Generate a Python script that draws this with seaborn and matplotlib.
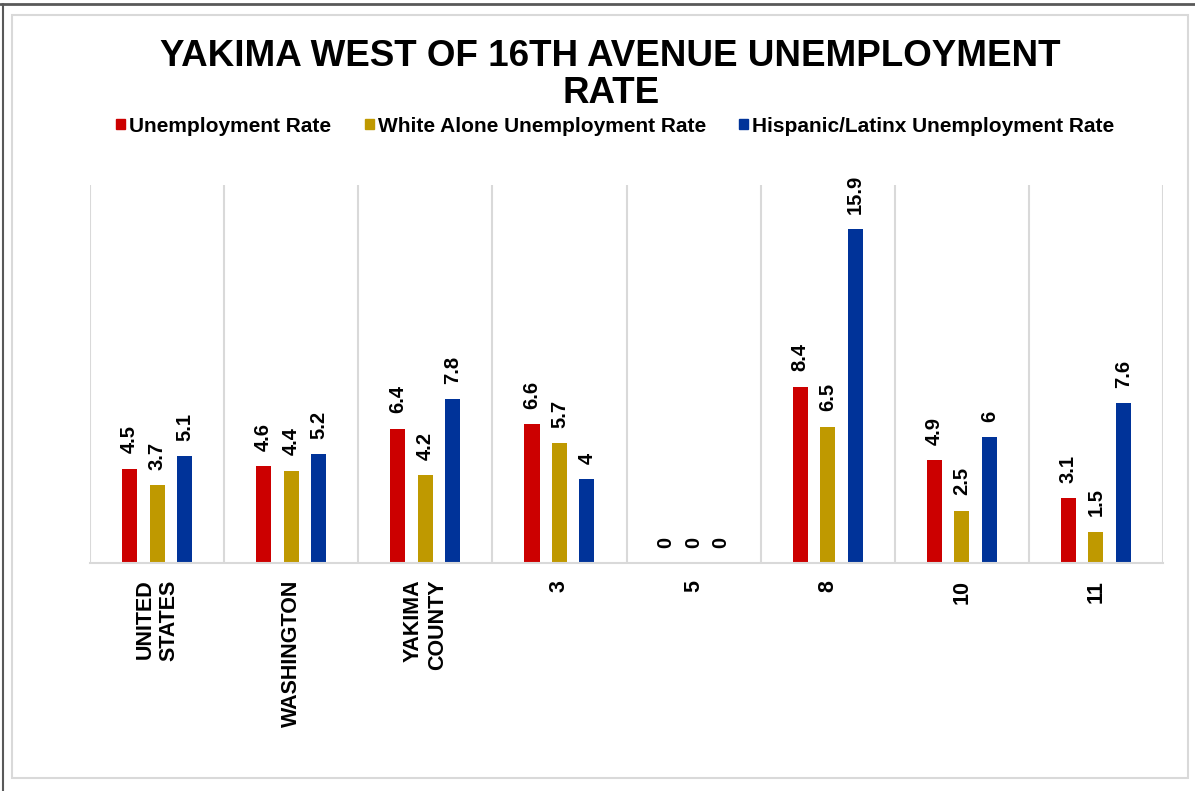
import numpy as np
import pandas as pd
import matplotlib
matplotlib.use("Agg")
import matplotlib.pyplot as plt
from matplotlib.patches import Rectangle
from matplotlib.lines import Line2D
import seaborn as sns

# data
places = ["UNITED\nSTATES", "WASHINGTON", "YAKIMA\nCOUNTY", "3", "5", "8", "10", "11"]
series = ["Unemployment Rate", "White Alone Unemployment Rate", "Hispanic/Latinx Unemployment Rate"]
total_rate = [4.5, 4.6, 6.4, 6.6, 0, 8.4, 4.9, 3.1]
white_rate = [3.7, 4.4, 4.2, 5.7, 0, 6.5, 2.5, 1.5]
hispanic_rate = [5.1, 5.2, 7.8, 4, 0, 15.9, 6, 7.6]
colors = ["#CC0000", "#BF9900", "#003399"]

df = pd.DataFrame({
    "place": places * 3,
    "series": [series[0]] * 8 + [series[1]] * 8 + [series[2]] * 8,
    "rate": total_rate + white_rate + hispanic_rate,
})

sns.set_style("white")
plt.rcParams["font.family"] = ["Liberation Sans", "DejaVu Sans"]
plt.rcParams["text.color"] = "black"
plt.rcParams["xtick.color"] = "black"

fig = plt.figure(figsize=(11.95, 7.91), dpi=100)
ax = fig.add_axes([90 / 1195, 1 - 563 / 791, (1163 - 90) / 1195, (563 - 185) / 791])

sns.barplot(data=df, x="place", y="rate", hue="series", order=places,
            hue_order=series, palette=colors, saturation=1, width=0.615, gap=0.45,
            linewidth=0, ax=ax, legend=False)

for cont in ax.containers:
    labels = [f"{v:g}" for v in cont.datavalues]
    ax.bar_label(cont, labels=labels, rotation=90, padding=11,
                 fontsize=14.5, fontweight="bold", color="black")

ax.set_ylim(0, 18)
ax.set_xlim(-0.5, len(places) - 0.5)
ax.set_yticks([])
ax.set_xlabel("")
ax.set_ylabel("")
ax.set_xticks(np.arange(-0.5, len(places), 1.0), minor=True)
ax.grid(which="minor", axis="x", color="#d9d9d9", linewidth=1.5)
ax.tick_params(axis="x", which="both", length=0, pad=12)
for lbl in ax.get_xticklabels():
    lbl.set_rotation(90)
    lbl.set_ha("center")
    lbl.set_va("top")
    lbl.set_multialignment("right")
    lbl.set_fontsize(15.5)
    lbl.set_fontweight("bold")
    lbl.set_color("black")
for side in ["left", "right", "top"]:
    ax.spines[side].set_visible(False)
ax.spines["bottom"].set_color("#d9d9d9")
ax.spines["bottom"].set_linewidth(1.5)

fig.text(0.511, 1 - 75 / 791, "YAKIMA WEST OF 16TH AVENUE UNEMPLOYMENT\nRATE",
         ha="center", va="center", fontsize=26.5, fontweight="bold",
         linespacing=1.08, color="black")

handles = [Rectangle((0, 0), 1, 1, color=c) for c in colors]
fig.legend(handles, series, loc="center", bbox_to_anchor=(0.515, 1 - 126 / 791),
           ncol=3, frameon=False, handlelength=0.42, handleheight=0.42,
           handletextpad=0.2, columnspacing=1.6,
           prop={"weight": "bold", "size": 15})

# chart frame
fig.add_artist(Rectangle((12 / 1195, 1 - 778 / 791), (1188 - 12) / 1195, (778 - 15) / 791,
                         transform=fig.transFigure, fill=False, edgecolor="#d9d9d9", linewidth=1.5))
fig.add_artist(Line2D([0, 1], [1 - 4 / 791] * 2, transform=fig.transFigure, color="#595959", linewidth=2))
fig.add_artist(Line2D([3 / 1195] * 2, [0, 1 - 4 / 791], transform=fig.transFigure, color="#595959", linewidth=1.5))

fig.savefig("out.png", dpi=100)
plt.close(fig)
